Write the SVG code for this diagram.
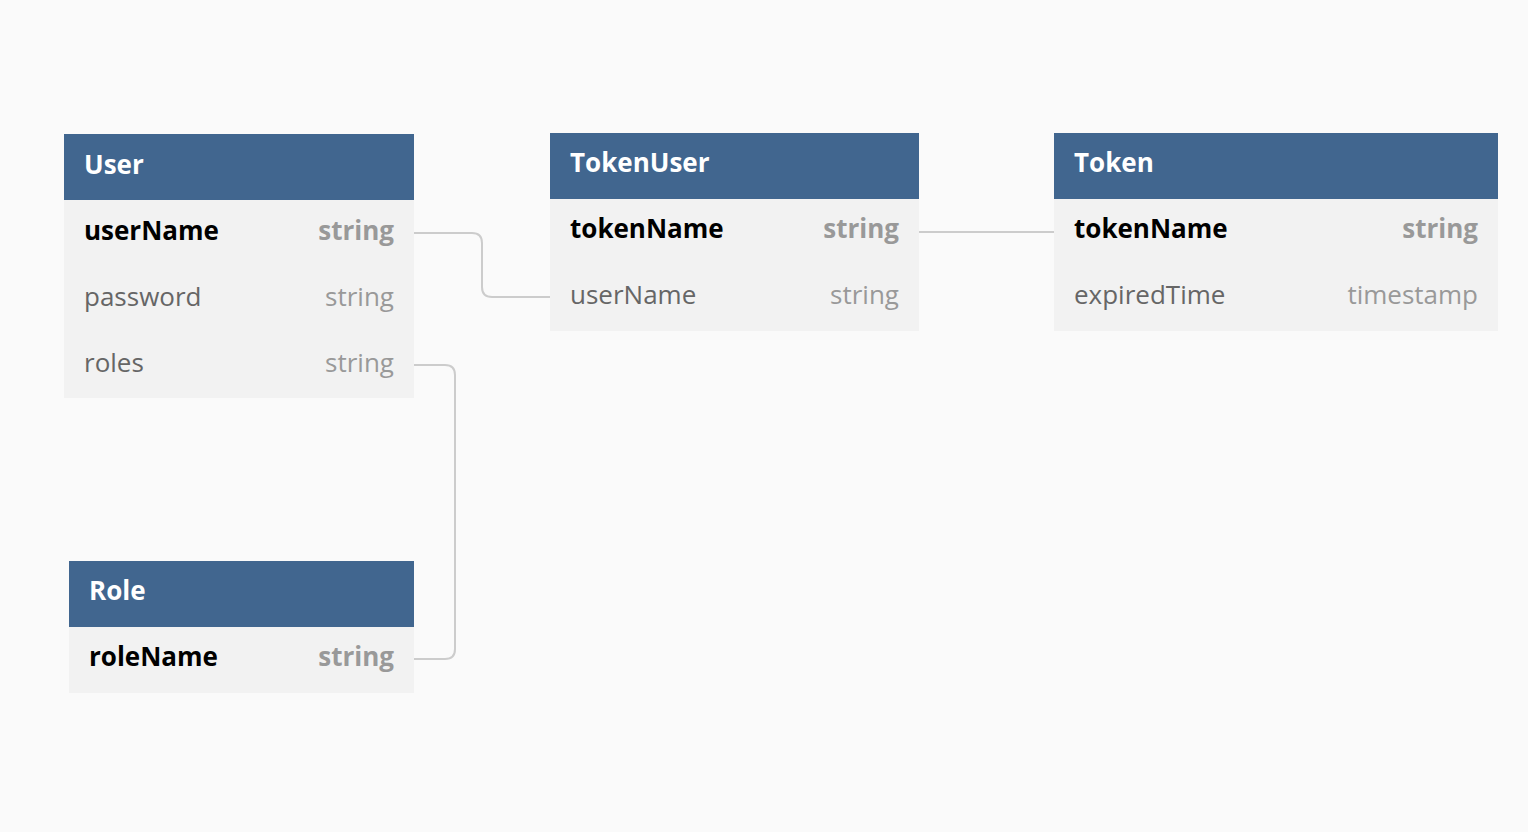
<svg xmlns="http://www.w3.org/2000/svg" width="1528" height="832" viewBox="0 0 1528 832">
<style>
.hdr{fill:#41668f}
.body{fill:#f2f2f2}
.title{font-family:"Open Sans",sans-serif;font-size:26px;font-weight:700;fill:#ffffff}
.pk{font-family:"Open Sans",sans-serif;font-size:26px;font-weight:700;fill:#000000}
.pkt{font-family:"Open Sans",sans-serif;font-size:26px;font-weight:700;fill:#999999;text-anchor:end}
.f{font-family:"Open Sans",sans-serif;font-size:26px;fill:#666666}
.ft{font-family:"Open Sans",sans-serif;font-size:26px;fill:#999999;text-anchor:end}
.conn{fill:none;stroke:#cccccc;stroke-width:2}
</style>
<rect width="1528" height="832" fill="#fafafa"/>
<g id="connectors">
<path class="conn" d="M414,233 H472 Q482,233 482,243 V287 Q482,297 492,297 H550"/>
<path class="conn" d="M414,365 H445 Q455,365 455,375 V649 Q455,659 445,659 H414"/>
<path class="conn" d="M919,232 H1054"/>
</g>
<g id="User">
<rect class="hdr" x="64" y="134" width="350" height="66"/>
<rect class="body" x="64" y="200" width="350" height="198"/>
<text class="title" x="84" y="174">User</text>
<text class="pk" x="84" y="240">userName</text>
<text class="pkt" x="394" y="240">string</text>
<text class="f" x="84" y="306">password</text>
<text class="ft" x="394" y="306">string</text>
<text class="f" x="84" y="372">roles</text>
<text class="ft" x="394" y="372">string</text>
</g>
<g id="TokenUser">
<rect class="hdr" x="550" y="133" width="369" height="66"/>
<rect class="body" x="550" y="199" width="369" height="132"/>
<text class="title" x="570" y="172">TokenUser</text>
<text class="pk" x="570" y="238">tokenName</text>
<text class="pkt" x="899" y="238">string</text>
<text class="f" x="570" y="304">userName</text>
<text class="ft" x="899" y="304">string</text>
</g>
<g id="Token">
<rect class="hdr" x="1054" y="133" width="444" height="66"/>
<rect class="body" x="1054" y="199" width="444" height="132"/>
<text class="title" x="1074" y="172">Token</text>
<text class="pk" x="1074" y="238">tokenName</text>
<text class="pkt" x="1478" y="238">string</text>
<text class="f" x="1074" y="304">expiredTime</text>
<text class="ft" x="1478" y="304">timestamp</text>
</g>
<g id="Role">
<rect class="hdr" x="69" y="561" width="345" height="66"/>
<rect class="body" x="69" y="627" width="345" height="66"/>
<text class="title" x="89" y="600">Role</text>
<text class="pk" x="89" y="666">roleName</text>
<text class="pkt" x="394" y="666">string</text>
</g>
</svg>
